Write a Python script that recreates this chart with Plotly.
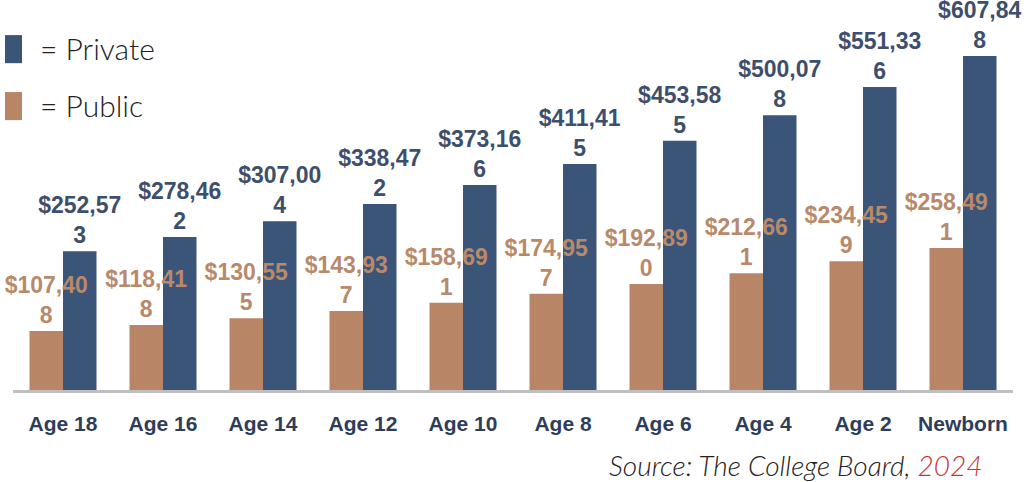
import plotly.graph_objects as go

categories = ["Age 18", "Age 16", "Age 14", "Age 12", "Age 10", "Age 8", "Age 6", "Age 4", "Age 2", "Newborn"]
public_values = [107408, 118418, 130555, 143937, 158691, 174957, 192890, 212661, 234459, 258491]
private_values = [252573, 278462, 307004, 338472, 373166, 411415, 453585, 500078, 551336, 607848]

PUBLIC_BAR = "#b88566"
PRIVATE_BAR = "#3b5579"
PUBLIC_TXT = "#b8896b"
PRIVATE_TXT = "#3d4f6c"
BAR_W = 0.335


def fmt(v):
    s = f"${v:,}"
    return s[:-1] + "<br>" + s[-1]


fig = go.Figure()
# private drawn first so public labels sit on top of the private bars
fig.add_trace(go.Bar(
    x=categories, y=private_values, name="Private",
    width=BAR_W, offset=0,
    marker=dict(color=PRIVATE_BAR, line=dict(width=0)),
    text=[fmt(v) for v in private_values], textposition="outside",
    textfont=dict(family="Liberation Sans, Arial", size=23, color=PRIVATE_TXT, weight="bold"),
    cliponaxis=False, constraintext="none", hoverinfo="skip",
))
fig.add_trace(go.Bar(
    x=categories, y=public_values, name="Public",
    width=BAR_W, offset=-BAR_W,
    marker=dict(color=PUBLIC_BAR, line=dict(width=0)),
    text=[fmt(v) for v in public_values], textposition="outside",
    textfont=dict(family="Liberation Sans, Arial", size=23, color=PUBLIC_TXT, weight="bold"),
    cliponaxis=False, constraintext="none", hoverinfo="skip",
))

fig.update_layout(
    width=1024, height=482,
    margin=dict(l=13, r=11, t=0, b=92),
    paper_bgcolor="white", plot_bgcolor="white",
    barmode="overlay",
    showlegend=False,
    xaxis=dict(
        showline=True, linecolor="#bfbfbf", linewidth=3,
        showgrid=False, ticks="", ticklabelstandoff=13,
        tickfont=dict(family="Liberation Sans, Arial", size=21, color="#2f3d5a", weight="bold"),
    ),
    yaxis=dict(range=[0, 709700], visible=False, showgrid=False),
)

# legend swatches
fig.add_shape(type="rect", xref="paper", yref="paper", x0=-0.008, x1=0.009, y0=0.838, y1=0.910,
              fillcolor=PRIVATE_BAR, line=dict(width=0))
fig.add_shape(type="rect", xref="paper", yref="paper", x0=-0.008, x1=0.009, y0=0.692, y1=0.764,
              fillcolor=PUBLIC_BAR, line=dict(width=0))
fig.add_annotation(text="= Private", xref="paper", yref="paper", x=0.025, y=0.877,
                   xanchor="left", yanchor="middle", showarrow=False,
                   font=dict(family="Lato", size=30, color="#222222", weight=300))
fig.add_annotation(text="= Public", xref="paper", yref="paper", x=0.025, y=0.731,
                   xanchor="left", yanchor="middle", showarrow=False,
                   font=dict(family="Lato", size=30, color="#222222", weight=300))

fig.add_annotation(text="<i>Source: The College Board, <span style='color:#cc3333'>2024</span></i>",
                   xref="paper", yref="paper", x=0.972, y=-0.192,
                   xanchor="right", yanchor="middle", showarrow=False,
                   font=dict(family="Lato", size=28, color="#222222", weight=300))

fig.write_html("out.html", post_script="document.body.style.margin='0';",
               config={"displayModeBar": False})
